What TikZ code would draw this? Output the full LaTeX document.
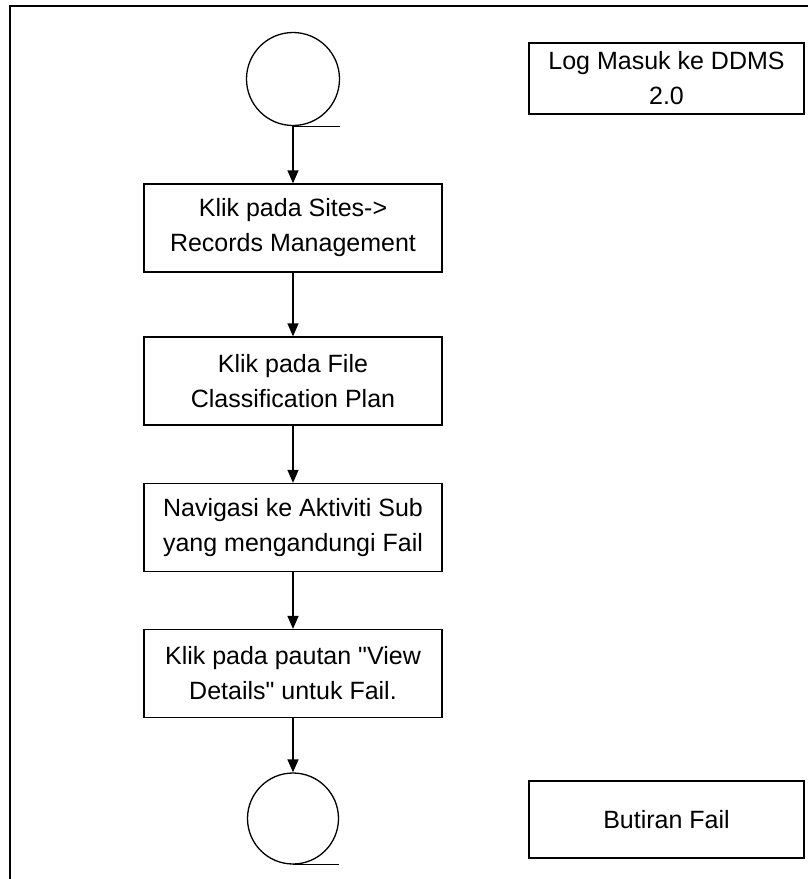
\documentclass[tikz,border=0pt]{standalone}
\usepackage{fontspec}
\setmainfont{Liberation Sans}[Ligatures=TeXOff]
\usepackage{tikz}
\usetikzlibrary{arrows.meta}
\usetikzlibrary{calc}

\tikzset{
  stepbox/.style={draw, line width=1.3pt, minimum width=298pt, minimum height=88pt,
    align=center, font=\fontsize{25}{35}\selectfont, inner sep=0pt},
  sidebox/.style={draw, line width=1.3pt, minimum width=275pt,
    align=center, font=\fontsize{25}{35}\selectfont, inner sep=0pt},
  endpoint/.style={draw, circle, line width=1.3pt, inner sep=0pt},
  flow/.style={-{Triangle[width=11pt,length=13pt]}, line width=1.3pt}
}

\begin{document}
\begin{tikzpicture}[x=1pt,y=-1pt]
\useasboundingbox (0,0) rectangle (808,879);
% frame
\draw[line width=2pt] (10,879) -- (10,6) -- (808,6);

% flow
\node[endpoint, minimum size=93pt] (start) at (293,79) {};
\node[stepbox] (sites) at (293,228) {Klik pada Sites->\\Records Management};
\node[stepbox] (fcp) at (293,381) {Klik pada File\\Classification Plan};
\node[stepbox] (nav) at (293,527.5) {Navigasi ke Aktiviti Sub\\yang mengandungi Fail};
\node[stepbox] (details) at (293,673.5) {Klik pada pautan "View\\Details" untuk Fail.};
\node[endpoint, minimum size=91pt] (stop) at (293,818.5) {};

\draw[line width=1.3pt] (start.south) -- ++(47,0);
\draw[line width=1.3pt] (stop.south) -- ++(46,0);

\draw[flow] (start) -- (sites);
\draw[flow] (sites) -- (fcp);
\draw[flow] (fcp) -- (nav);
\draw[flow] (nav) -- (details);
\draw[flow] (details) -- (stop);

% side notes
\node[sidebox, minimum height=71pt] (login) at (666.5,78.5) {Log Masuk ke DDMS\\2.0};
\node[sidebox, minimum height=77pt] (result) at (666.5,819.5) {Butiran Fail};
\end{tikzpicture}
\end{document}
